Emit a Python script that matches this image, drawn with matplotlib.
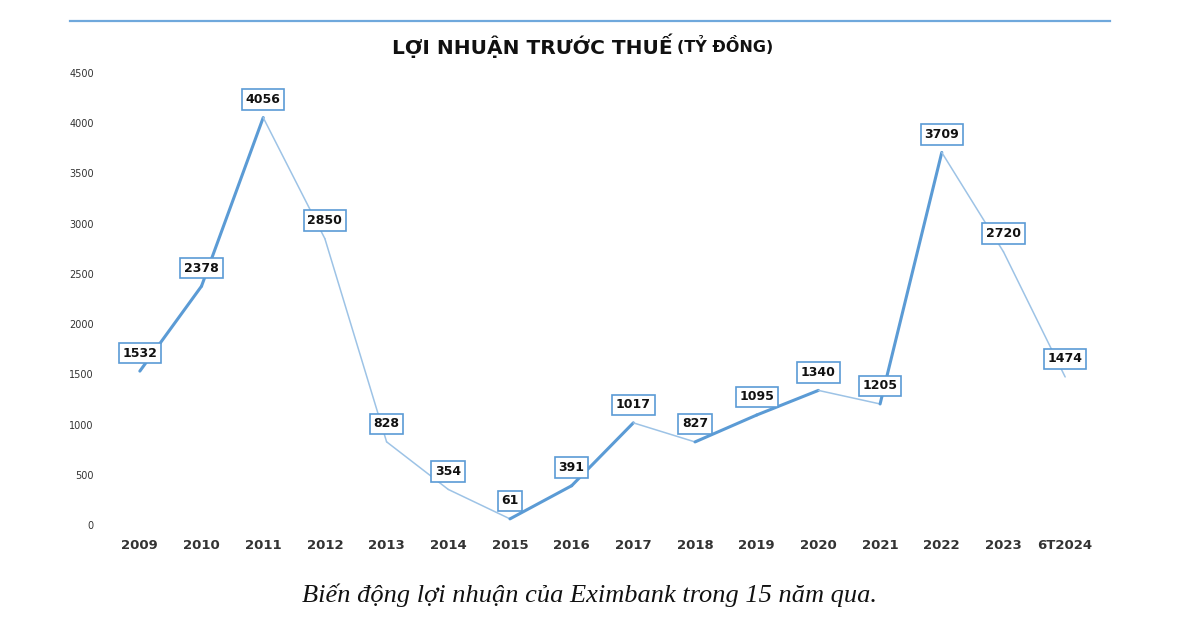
import matplotlib
matplotlib.use("Agg")
import matplotlib.pyplot as plt
from matplotlib.collections import LineCollection
import numpy as np

years = ["2009", "2010", "2011", "2012", "2013", "2014", "2015", "2016",
         "2017", "2018", "2019", "2020", "2021", "2022", "2023", "6T2024"]
profit = [1532, 2378, 4056, 2850, 828, 354, 61, 391,
          1017, 827, 1095, 1340, 1205, 3709, 2720, 1474]
yticks = [0, 500, 1000, 1500, 2000, 2500, 3000, 3500, 4000, 4500]

title_main = "LỢI NHUẬN TRƯỚC THUẾ"
title_unit = "(TỶ ĐỒNG)"
caption = "Biến động lợi nhuận của Eximbank trong 15 năm qua."

UP_COLOR = "#5b9bd5"
DOWN_COLOR = "#9dc3e6"

fig = plt.figure(figsize=(12, 6.26), dpi=100)
ax = fig.add_axes([109 / 1200, 1 - 525 / 626, (1096 - 109) / 1200, (525 - 73) / 626])

x = np.arange(len(years))
segs, colors, widths = [], [], []
for i in range(len(x) - 1):
    segs.append([(x[i], profit[i]), (x[i + 1], profit[i + 1])])
    rising = profit[i + 1] > profit[i]
    colors.append(UP_COLOR if rising else DOWN_COLOR)
    widths.append(2.2 if rising else 1.1)
ax.add_collection(LineCollection(segs, colors=colors, linewidths=widths, capstyle="round"))

for xi, v in zip(x, profit):
    ax.annotate(str(v), (xi, v), xytext=(0, 13), textcoords="offset points",
                ha="center", va="center", fontsize=9, fontweight="bold", color="#111111",
                bbox=dict(boxstyle="square,pad=0.3", fc="white", ec=UP_COLOR, lw=1.2))

ax.set_xlim(-0.5, len(years) - 0.5)
ax.set_ylim(0, 4500)
ax.set_xticks(x)
ax.set_xticklabels(years, fontsize=9.5, fontweight="semibold", color="#333333")
ax.set_yticks(yticks)
ax.set_yticklabels([str(t) for t in yticks], fontsize=7, color="#333333")
ax.tick_params(length=0)
ax.tick_params(axis="x", pad=10)
ax.tick_params(axis="y", pad=11)
for s in ax.spines.values():
    s.set_visible(False)

# blue rule across the top
fig.add_artist(plt.Line2D([70 / 1200, 1110 / 1200], [1 - 21 / 626] * 2,
                          color="#6fa8dc", lw=1.6, transform=fig.transFigure))

fig.text(673 / 1200, 1 - 46 / 626, title_main, ha="right", va="center",
         fontsize=14.5, fontweight="bold", color="#111111")
fig.text(677 / 1200, 1 - 46 / 626, title_unit, ha="left", va="center",
         fontsize=11.5, fontweight="bold", color="#111111")

fig.text(590 / 1200, 1 - 595 / 626, caption, ha="center", va="center",
         fontsize=19, style="italic", family="Liberation Serif", color="#111111")

fig.savefig("out.png", dpi=100)
